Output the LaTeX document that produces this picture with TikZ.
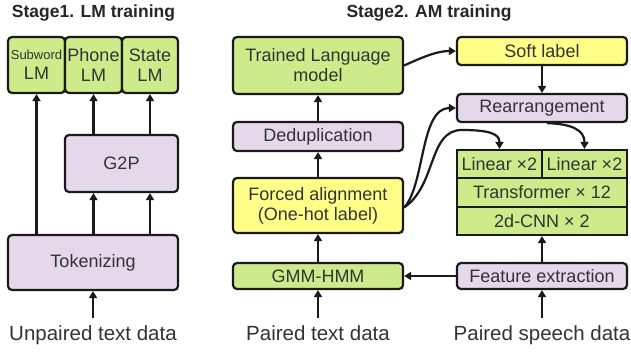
\documentclass[tikz,border=0pt]{standalone}
\usepackage{fontspec}
\setmainfont{Liberation Sans}
\usetikzlibrary{arrows.meta,calc}
\definecolor{gfill}{HTML}{CDEB8B}
\definecolor{yfill}{HTML}{FFFF88}
\definecolor{pfill}{HTML}{E4D8EA}
\definecolor{txt}{HTML}{333333}
\definecolor{edge}{HTML}{1A1A1A}
\tikzset{
  box/.style={draw=edge, line width=2.2pt, rounded corners=4pt, inner sep=0pt, align=center,
     text=txt, font=\fontsize{18}{20}\selectfont},
  gbox/.style={box, fill=gfill},
  ybox/.style={box, fill=yfill},
  pbox/.style={box, fill=pfill},
  sqbox/.style={box, fill=gfill, rounded corners=0pt},
  arr/.style={draw=edge, line width=2.2pt, -{Triangle[length=7pt,width=8pt]}},
  title/.style={font=\bfseries\fontsize{17.5}{20}\selectfont, text=black!85, inner sep=0pt, anchor=base},
  lbl/.style={font=\fontsize{20.5}{22}\selectfont, text=txt, inner xsep=0pt, inner ysep=7pt, anchor=base}
}
\begin{document}
\begin{tikzpicture}[x=1pt,y=-1pt]
\useasboundingbox (0,0) rectangle (631,354);
% titles
\node[title] (t1) at (93.5,17) {Stage1. LM training};
\node[title] (t2) at (429,17) {Stage2. AM training};
% Stage 1
\node[gbox, minimum width=57pt, minimum height=56pt] (sub) at (36.5,65)
  {{\fontsize{13}{15}\selectfont Subword}\\LM};
\node[gbox, minimum width=57pt, minimum height=56pt] (pho) at (93.5,65) {Phone\\LM};
\node[gbox, minimum width=56pt, minimum height=56pt] (sta) at (150,65) {State\\LM};
\node[pbox, minimum width=113pt, minimum height=57pt] (g2p) at (121.5,163.5) {G2P};
\node[pbox, minimum width=170pt, minimum height=55pt] (tok) at (93,262.5) {Tokenizing};
\node[lbl] (unp) at (93,340) {Unpaired text data};
\draw[arr] (tok.north -| sub.south) -- (sub.south);
\draw[arr] (g2p.north -| pho.south) -- (pho.south);
\draw[arr] (g2p.north -| sta.south) -- (sta.south);
\draw[arr] (tok.north -| pho.south) -- (g2p.south -| pho.south);
\draw[arr] (tok.north -| sta.south) -- (g2p.south -| sta.south);
\draw[arr] (unp.north) -- (tok.south);
% Stage 2 left column
\node[gbox, minimum width=170pt, minimum height=57pt] (tlm) at (318,65.5) {Trained Language\\model};
\node[pbox, minimum width=170pt, minimum height=29pt] (ded) at (318,136.5) {Deduplication};
\node[ybox, minimum width=170pt, minimum height=55pt] (fa) at (318,205.5) {Forced alignment\\(One-hot label)};
\node[gbox, minimum width=170pt, minimum height=26pt] (gmm) at (318,276) {GMM-HMM};
\node[lbl] (ptd) at (318,340) {Paired text data};
% Stage 2 right column
\node[ybox, minimum width=170pt, minimum height=28pt] (soft) at (542,51) {Soft label};
\node[pbox, minimum width=170pt, minimum height=28pt] (rear) at (542,108) {Rearrangement};
\node[sqbox, minimum width=85pt, minimum height=28pt] (lin1) at (499.5,164) {Linear ×2};
\node[sqbox, minimum width=85pt, minimum height=28pt] (lin2) at (584.5,164) {Linear ×2};
\node[sqbox, minimum width=170pt, minimum height=29pt] (trf) at (542,192.5) {Transformer × 12};
\node[sqbox, minimum width=170pt, minimum height=28pt] (cnn) at (542,221) {2d-CNN × 2};
\node[pbox, minimum width=170pt, minimum height=26pt] (fe) at (542,276) {Feature extraction};
\node[lbl] (psd) at (542,340) {Paired speech data};
% arrows stage 2
\draw[arr] (ptd.north) -- (gmm.south);
\draw[arr] (gmm.north) -- (fa.south);
\draw[arr] (fa.north) -- (ded.south);
\draw[arr] (ded.north) -- (tlm.south);
\draw[arr] (psd.north) -- (fe.south);
\draw[arr] (fe.west) -- (gmm.east);
\draw[arr] (fe.north) -- (cnn.south);
\draw[arr] (soft.south) -- (rear.north);
\draw[arr] (tlm.east) .. controls (425,56) and (438,51) .. (soft.west);
\draw[arr] ([yshift=-2pt]fa.east) .. controls (425,185) and (420,108) .. (rear.west);
\draw[arr] ([yshift=-2pt]fa.east) .. controls (437,185) and (428,130) .. (462,130) .. controls (490,130) and (499.5,134) .. (lin1.north);
\draw[arr] ([xshift=5pt]rear.south) .. controls (572,124) and (584.5,130) .. (lin2.north);
\end{tikzpicture}
\end{document}
